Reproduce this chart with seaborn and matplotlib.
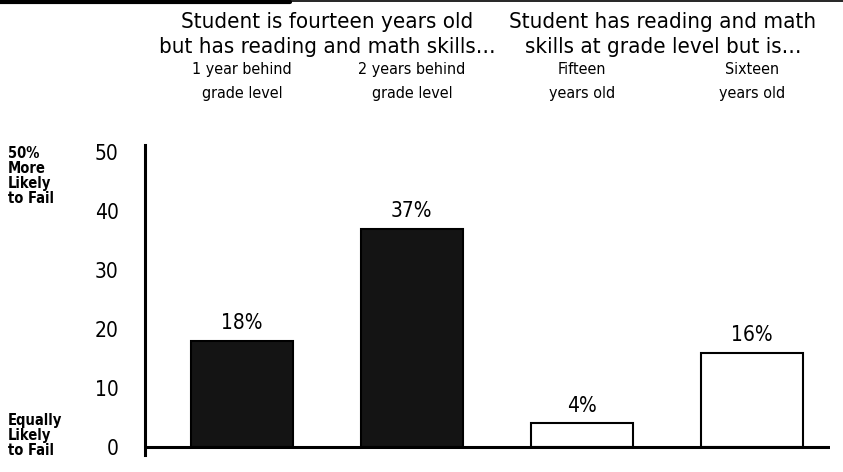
import matplotlib
matplotlib.use("Agg")
import matplotlib.pyplot as plt
import seaborn as sns
import pandas as pd

categories = ["1 year behind\ngrade level", "2 years behind\ngrade level",
              "Fifteen\nyears old", "Sixteen\nyears old"]
values = [18, 37, 4, 16]
value_labels = ["18%", "37%", "4%", "16%"]
bar_colors = ["#141414", "#141414", "#ffffff", "#ffffff"]
group_titles = ["Student is fourteen years old\nbut has reading and math skills\u2026",
                "Student has reading and math\nskills at grade level but is\u2026"]
yticks = [0, 10, 20, 30, 40, 50]

sns.set_style("white")
plt.rcParams['font.family'] = ["DejaVu Sans"]
plt.rcParams['font.stretch'] = "condensed"
plt.rcParams['text.color'] = "black"
plt.rcParams['ytick.color'] = "black"

df = pd.DataFrame({"cat": categories, "val": values})

fig = plt.figure(figsize=(8.43, 4.72), dpi=100)
ax = fig.add_axes([145/843, 1-455/472, (830-145)/843, (455-145)/472])
sns.barplot(data=df, x="cat", y="val", hue="cat", palette=bar_colors,
            legend=False, width=0.6, edgecolor="black", linewidth=1.5, ax=ax,
            saturation=1)
ax.set_xlim(-0.57, 3.46)
ax.set_ylim(-1.36, 51.2)
ax.set_yticks(yticks)
ax.set_yticklabels([str(t) for t in yticks], fontsize=15)
ax.tick_params(axis='y', length=0, pad=19, labelcolor="black")
ax.set_xticks([])
ax.set_xlabel("")
ax.set_ylabel("")
for s in ["top", "right", "bottom"]:
    ax.spines[s].set_visible(False)
ax.spines["left"].set_linewidth(2.2)
ax.spines["left"].set_color("black")
ax.axhline(0, color="black", lw=2.2, zorder=5)

for i, (v, lab) in enumerate(zip(values, value_labels)):
    ax.text(i, v + 1.3, lab, ha="center", va="bottom", fontsize=15, color="black")

for i, c in enumerate(categories):
    x = ax.transData.transform((i, 0))[0] / fig.bbox.width
    fig.text(x, 1 - 62/472, c, ha="center", va="top", fontsize=11.5, linespacing=1.75,
             color="black")

fig.text(327/843, 1 - 12/472, group_titles[0], ha="center", va="top", fontsize=16,
         linespacing=1.3, color="black")
fig.text(663/843, 1 - 12/472, group_titles[1], ha="center", va="top", fontsize=16,
         linespacing=1.3, color="black")

fig.text(8/843, 1 - 146/472, "50%\nMore\nLikely\nto Fail", ha="left", va="top",
         fontsize=10.5, fontweight="bold", linespacing=1.0, color="black")
fig.text(8/843, 1 - 413/472, "Equally\nLikely\nto Fail", ha="left", va="top",
         fontsize=10.5, fontweight="bold", linespacing=1.0, color="black")

fig.add_artist(plt.Line2D([0, 1], [1 - 1/472, 1 - 1/472], color="black", lw=1.2,
                          transform=fig.transFigure))
fig.add_artist(plt.Line2D([0, 290/843], [1 - 2/472, 1 - 2/472], color="black", lw=3,
                          transform=fig.transFigure))

fig.savefig("out.png", dpi=100)
